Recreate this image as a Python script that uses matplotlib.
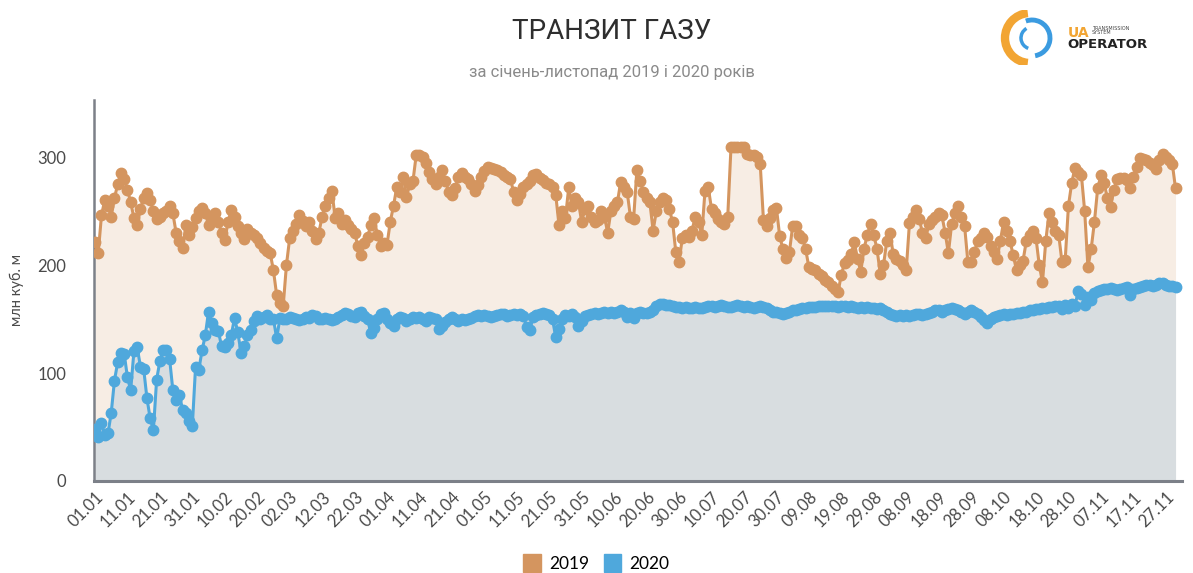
import matplotlib

matplotlib.use("Agg")
import matplotlib.pyplot as plt
from matplotlib.patches import Arc, Patch

ORANGE = "#d4955f"
BLUE = "#4fa8dc"
FILL_2019 = "#f7ede4"
FILL_2020 = "#d8dde0"
INK = "#4a4a4a"
MUTED = "#8a8a8a"

# daily transit, mln m3 (01.01 .. 30.11)
transit_2019 = [
    221, 211, 246, 260, 255, 245, 262, 275, 285, 280,
    270, 258, 244, 237, 252, 262, 267, 260, 250, 243,
    245, 248, 250, 255, 248, 230, 222, 216, 237, 228,
    235, 244, 250, 253, 248, 237, 242, 248, 240, 230,
    223, 240, 251, 245, 236, 230, 224, 233, 230, 228,
    225, 220, 216, 213, 211, 195, 172, 165, 162, 200,
    225, 232, 238, 246, 241, 236, 240, 232, 224, 230,
    245, 255, 262, 269, 244, 248, 238, 242, 237, 233,
    230, 218, 209, 220, 226, 237, 244, 228, 218, 220,
    219, 240, 255, 272, 268, 282, 263, 275, 278, 302,
    302, 300, 295, 286, 280, 275, 282, 288, 278, 268,
    265, 271, 282, 285, 282, 280, 275, 269, 274, 282,
    287, 291, 290, 289, 288, 286, 283, 282, 280, 268,
    260, 266, 272, 275, 278, 283, 284, 281, 279, 276,
    275, 272, 265, 237, 250, 244, 272, 255, 262, 258,
    240, 252, 255, 245, 240, 242, 250, 245, 230, 250,
    255, 258, 277, 272, 268, 245, 243, 288, 278, 268,
    262, 258, 232, 250, 258, 262, 260, 252, 240, 212,
    203, 225, 228, 226, 232, 245, 240, 228, 269, 272,
    252, 248, 243, 240, 238, 245, 309, 309, 309, 309,
    309, 303, 302, 302, 300, 294, 242, 236, 244, 251,
    253, 227, 215, 207, 212, 236, 236, 228, 225, 215,
    198, 196, 195, 192, 190, 186, 184, 181, 178, 175,
    191, 202, 205, 210, 221, 206, 194, 215, 228, 238,
    228, 215, 192, 200, 222, 230, 210, 206, 204, 200,
    195, 239, 245, 251, 243, 230, 225, 238, 242, 245,
    248, 246, 230, 211, 238, 248, 255, 245, 236, 203,
    203, 212, 222, 225, 230, 226, 218, 212, 206, 222,
    240, 232, 222, 209, 195, 200, 204, 222, 228, 232,
    225, 200, 184, 222, 248, 240, 232, 228, 203, 205,
    255, 276, 290, 286, 283, 250, 198, 215, 240, 271,
    283, 276, 262, 254, 270, 280, 281, 281, 279, 271,
    282, 291, 299, 298, 297, 295, 293, 289, 297, 303,
    300, 297, 294, 271,
]
transit_2020 = [
    48, 41, 54, 43, 44, 63, 93, 110, 119, 118,
    96, 84, 120, 124, 106, 104, 77, 58, 47, 94,
    111, 121, 121, 113, 84, 75, 80, 66, 63, 56,
    51, 106, 103, 121, 135, 157, 146, 140, 139, 125,
    124, 128, 135, 151, 138, 119, 125, 135, 140, 148,
    153, 150, 152, 154, 150, 150, 132, 151, 150, 150,
    152, 151, 150, 149, 150, 152, 151, 154, 153, 150,
    150, 151, 150, 149, 150, 152, 154, 156, 155, 153,
    152, 156, 157, 153, 150, 137, 142, 150, 155, 156,
    150, 146, 144, 150, 152, 151, 148, 150, 152, 151,
    152, 150, 148, 152, 151, 150, 141, 144, 147, 150,
    152, 150, 148, 150, 149, 150, 151, 153, 154, 153,
    154, 153, 152, 153, 154, 155, 155, 153, 154, 155,
    154, 155, 153, 143, 140, 152, 154, 155, 156, 155,
    154, 150, 133, 141, 150, 154, 153, 155, 152, 144,
    148, 153, 154, 155, 156, 155, 156, 157, 156, 157,
    156, 157, 158, 157, 152, 156, 151, 156, 157, 156,
    156, 157, 158, 162, 164, 164, 163, 163, 162, 161,
    161, 160, 161, 160, 160, 161, 160, 160, 161, 162,
    162, 161, 162, 163, 162, 161, 161, 162, 163, 162,
    161, 162, 161, 160, 161, 162, 161, 160, 158, 157,
    157, 156, 155, 156, 157, 158, 158, 159, 160, 160,
    161, 161, 161, 162, 162, 162, 162, 162, 162, 161,
    162, 162, 161, 162, 161, 160, 161, 160, 161, 160,
    160, 159, 160, 158, 157, 155, 154, 153, 154, 153,
    154, 153, 154, 155, 155, 154, 155, 156, 157, 158,
    158, 157, 158, 159, 160, 159, 158, 157, 155, 157,
    158, 157, 155, 152, 149, 146, 150, 152, 153, 154,
    155, 154, 155, 155, 156, 156, 157, 157, 158, 158,
    159, 159, 160, 160, 161, 161, 162, 162, 159, 163,
    160, 164, 162, 176, 173, 163, 170, 168, 174, 176,
    177, 178, 178, 179, 178, 177, 178, 179, 180, 172,
    178, 179, 180, 181, 182, 182, 181, 182, 183, 183,
    182, 181, 181, 180,
]
tick_labels = [
    "01.01", "11.01", "21.01", "31.01", "10.02", "20.02", "02.03", "12.03",
    "22.03", "01.04", "11.04", "21.04", "01.05", "11.05", "21.05", "31.05",
    "10.06", "20.06", "30.06", "10.07", "20.07", "30.07", "09.08", "19.08",
    "29.08", "08.09", "18.09", "28.09", "08.10", "18.10", "28.10", "07.11",
    "17.11", "27.11",
]
y_ticks = [0, 100, 200, 300]

days = list(range(len(transit_2019)))

fig = plt.figure(figsize=(11.93, 5.73), dpi=100)
ax = fig.add_axes([0.0788, 0.1606, 0.912, 0.665])

ax.fill_between(days, 0, transit_2019, color=FILL_2019, lw=0, zorder=1)
ax.fill_between(days, 0, transit_2020, color=FILL_2020, lw=0, zorder=2)
ax.plot(days, transit_2019, color=ORANGE, lw=2.2, marker="o", ms=7.5,
        mec=ORANGE, mfc=ORANGE, zorder=3)
ax.plot(days, transit_2020, color=BLUE, lw=2.2, marker="o", ms=7.5,
        mec=BLUE, mfc=BLUE, zorder=4)

ax.set_xlim(-0.3, 335)
ax.set_ylim(0, 353)
ax.set_xticks(days[::10])
ax.set_xticklabels(tick_labels, rotation=45, ha="right", va="top",
                   rotation_mode="anchor", fontsize=12, color=INK, family="Lato")
ax.set_yticks(y_ticks)
ax.set_yticklabels([str(v) for v in y_ticks], fontsize=12, color=INK, family="Lato")
ax.tick_params(axis="both", length=0)
ax.tick_params(axis="y", pad=20)
ax.tick_params(axis="x", pad=6)
for s in ("top", "right"):
    ax.spines[s].set_visible(False)
ax.spines["left"].set_color("#7c8088")
ax.spines["left"].set_linewidth(1.8)
ax.spines["bottom"].set_color("#7c8088")
ax.spines["bottom"].set_linewidth(2.2)
ax.spines["bottom"].set_zorder(5)

fig.text(0.014, 0.494, "млн куб. м", rotation=90, ha="center", va="center",
         fontsize=10.5, color=INK, family="Lato")
fig.text(0.513, 0.945, "ТРАНЗИТ ГАЗУ", ha="center", va="center",
         fontsize=20, color="#2e2e2e", family="Roboto")
fig.text(0.513, 0.874, "за січень-листопад 2019 і 2020 років", ha="center",
         va="center", fontsize=12, color=MUTED, family="Roboto")

fig.legend(handles=[Patch(color=ORANGE, label="2019"), Patch(color=BLUE, label="2020")],
           loc="lower center", bbox_to_anchor=(0.5, -0.025), ncol=2, frameon=False,
           handlelength=1.0, handleheight=1.2, columnspacing=0.8,
           handletextpad=0.5, prop={"family": "Lato", "size": 12.5})

# logo
lg = fig.add_axes([995 / 1193, 1 - 65 / 573, 170 / 1193, 55 / 573])
lg.set_xlim(995, 1165)
lg.set_ylim(65, 10)
lg.axis("off")
lg.add_patch(Arc((1030, 38), 50, 50, theta1=95, theta2=265, color="#f2a533", lw=6))
lg.add_patch(Arc((1032, 38), 36, 36, theta1=-110, theta2=80, color="#3b9be0", lw=3.5))
lg.add_patch(Arc((1032, 38), 22, 22, theta1=110, theta2=240, color="#3b9be0", lw=2.5))
lg.text(1068, 33, "UA", fontsize=10, color="#f2a533", ha="left", va="center", weight="bold")
lg.text(1092, 28, "TRANSMISSION", fontsize=3.5, color="#444444", ha="left", va="center")
lg.text(1092, 33, "SYSTEM", fontsize=3.5, color="#444444", ha="left", va="center")
lg.text(1067, 45, "OPERATOR", fontsize=9.5, color="#222222", ha="left", va="center",
        weight="bold")

fig.savefig("out.png", dpi=100, facecolor="white")
